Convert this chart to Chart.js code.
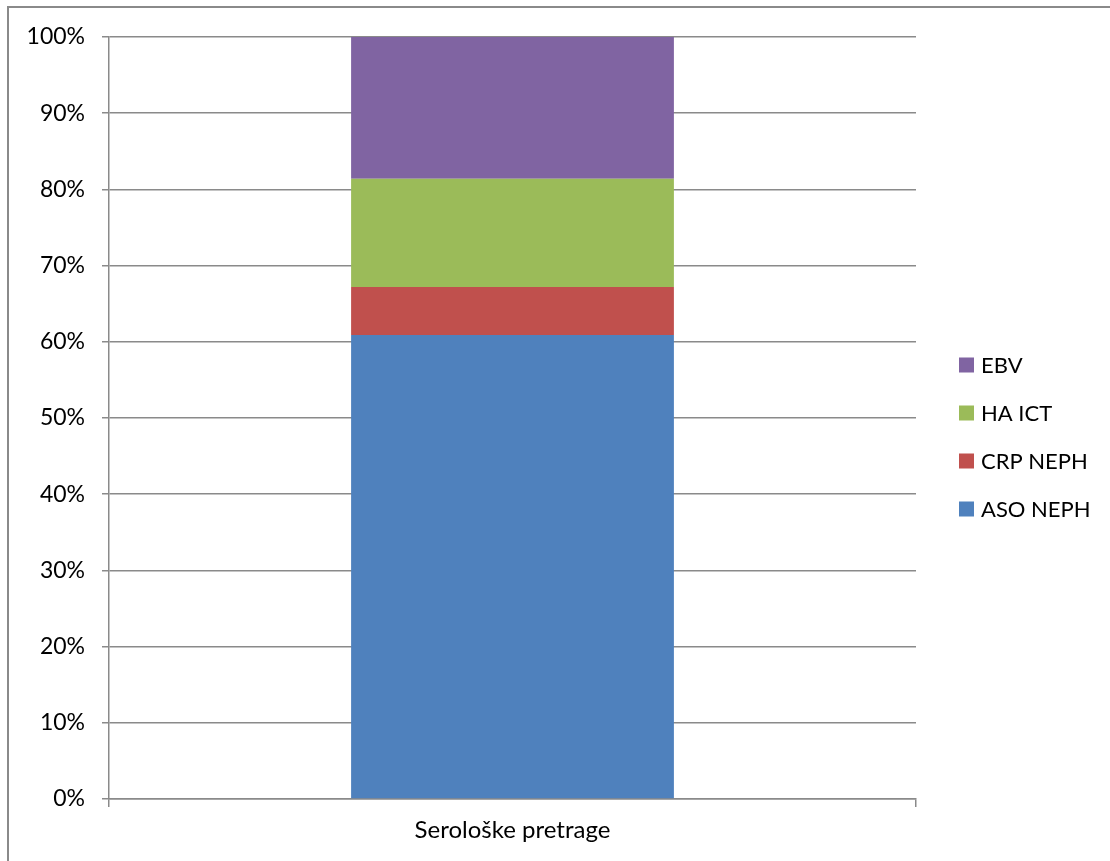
<!DOCTYPE html>
<html>
<head>
<meta charset="utf-8">
<script src="https://cdn.jsdelivr.net/npm/chart.js@4.4.0/dist/chart.umd.min.js"></script>
<style>
  html, body { margin: 0; padding: 0; background: #fff; }
  #wrap { position: relative; width: 1110px; height: 861px; overflow: hidden; }
  #frame { position: absolute; left: 7px; top: 6px; width: 1120px; height: 880px; border: 2px solid #8a8a8a; box-sizing: border-box; }
  canvas { position: absolute; left: 0; top: 0; }
</style>
</head>
<body>
<div id="wrap">
  <div id="frame"></div>
  <canvas id="c" width="1110" height="861"></canvas>
</div>
<script>
const categories = ['Serološke pretrage'];
const seriesNames = ['ASO NEPH', 'CRP NEPH', 'HA ICT', 'EBV'];
const asoValues = [60.9];
const crpValues = [6.3];
const haValues = [14.2];
const ebvValues = [18.6];
const seriesColors = ['#4F81BD', '#C0504D', '#9BBB59', '#8064A2'];

const FONT = 'Lato, "Open Sans", sans-serif';
const GRID = '#8a8a8a';

const legendPlugin = {
  id: 'sideLegend',
  afterDraw(chart) {
    const ctx = chart.ctx;
    const ds = chart.data.datasets.slice().reverse();
    ctx.save();
    ctx.font = '22px ' + FONT;
    ctx.textBaseline = 'middle';
    ctx.textAlign = 'left';
    const x0 = 959, y0 = 365, gap = 48, sz = 15;
    ds.forEach((d, i) => {
      const cy = y0 + i * gap;
      ctx.fillStyle = d.backgroundColor;
      ctx.fillRect(x0, cy - sz / 2, sz, sz);
      ctx.fillStyle = '#000';
      ctx.fillText(d.label, x0 + 22, cy + 1);
    });
    ctx.restore();
  }
};

const valueArrays = [asoValues, crpValues, haValues, ebvValues];

new Chart(document.getElementById('c'), {
  type: 'bar',
  data: {
    labels: categories,
    datasets: seriesNames.map((n, i) => ({
      label: n,
      data: valueArrays[i],
      backgroundColor: seriesColors[i],
      borderWidth: 0,
      categoryPercentage: 1,
      barPercentage: 0.4
    }))
  },
  options: {
    responsive: false,
    animation: false,
    devicePixelRatio: 1,
    layout: { padding: { left: 0, right: 194, top: 37, bottom: 0 } },
    plugins: { legend: { display: false }, tooltip: { enabled: false } },
    scales: {
      x: {
        stacked: true,
        afterFit: s => { s.height = 62; },
        grid: { display: true, drawOnChartArea: false, drawTicks: true, tickLength: 8, offset: true, color: GRID, lineWidth: 1.5 },
        border: { display: true, color: GRID, width: 1.5 },
        ticks: { color: '#000', font: { family: FONT, size: 24 }, padding: 9 }
      },
      y: {
        stacked: true,
        min: 0, max: 100,
        afterFit: s => { s.width = 109; },
        grid: { color: GRID, lineWidth: 1.5, tickLength: 7, drawTicks: true },
        border: { display: true, color: GRID, width: 1.5 },
        ticks: { stepSize: 10, color: '#000', font: { family: FONT, size: 23 }, padding: 17, callback: v => v + '%' }
      }
    }
  },
  plugins: [legendPlugin]
});
</script>
</body>
</html>
